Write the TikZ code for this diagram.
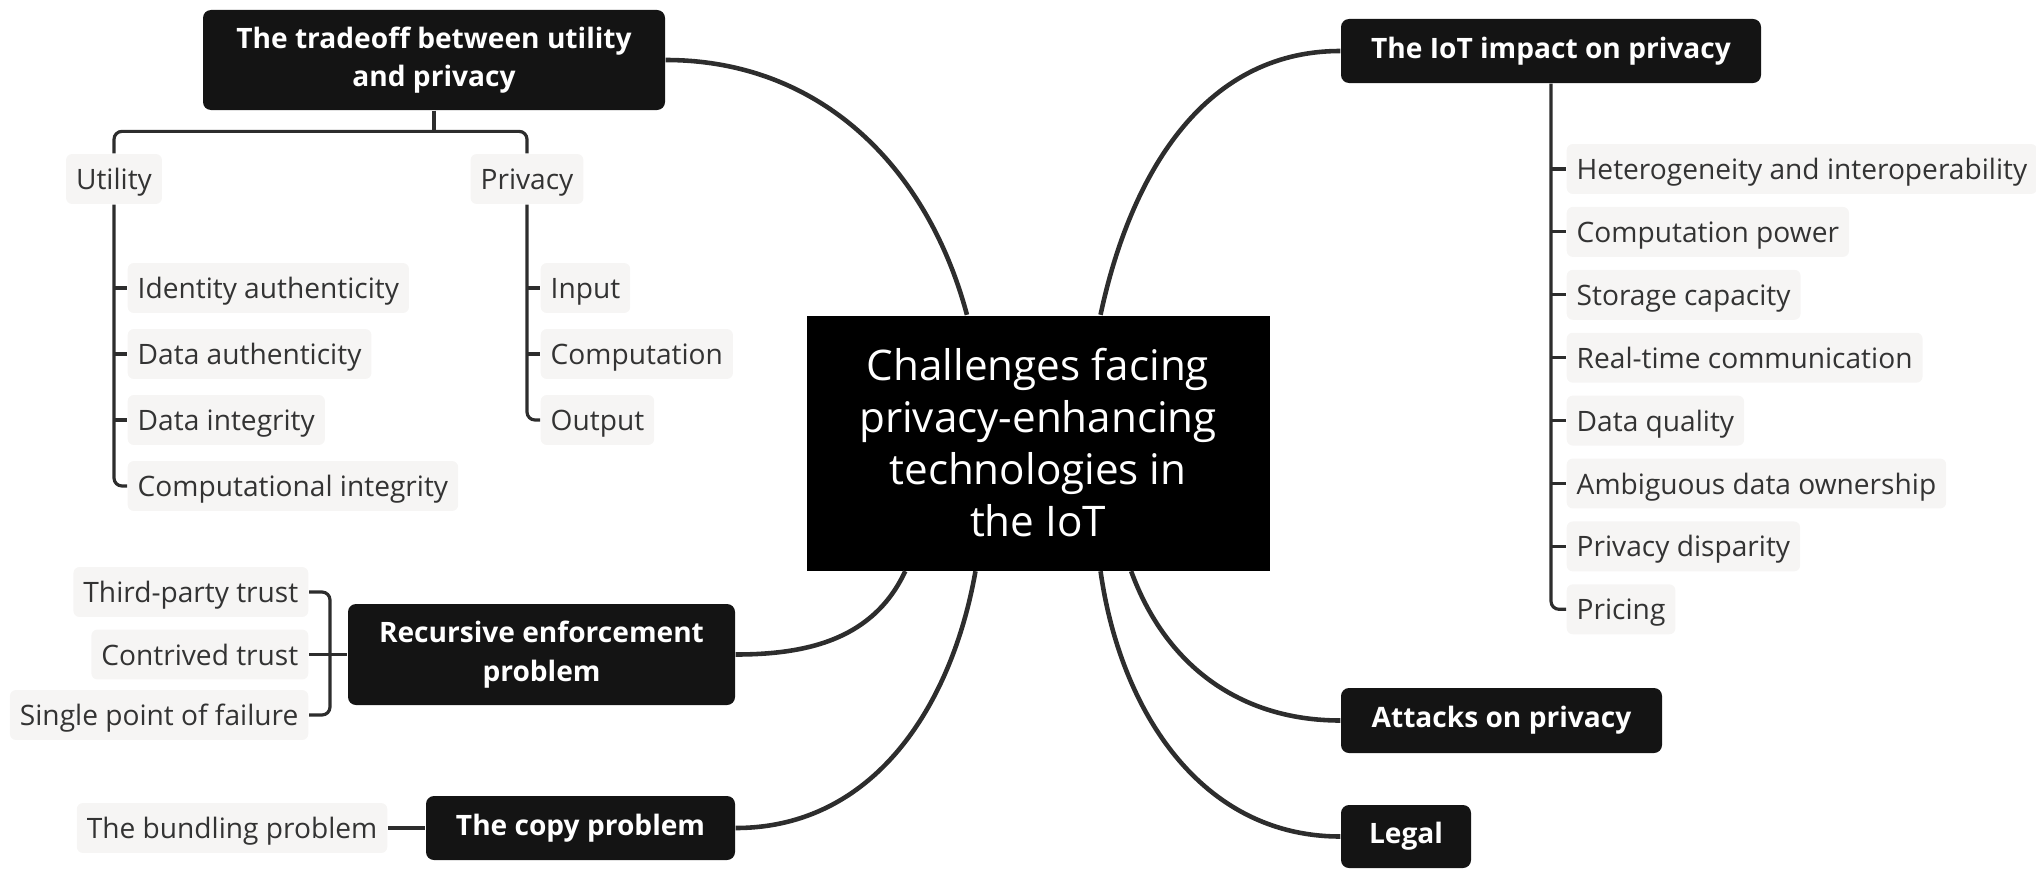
\documentclass[tikz,border=0pt]{standalone}
\usepackage{fontspec}
\setmainfont{Open Sans}
\usetikzlibrary{positioning}
\definecolor{leafbg}{RGB}{246,245,244}
\definecolor{boxbg}{RGB}{20,20,20}
\definecolor{linkgray}{RGB}{45,45,45}
\definecolor{leaftext}{RGB}{51,51,51}
\tikzset{
  mainbox/.style={fill=boxbg, text=white, rounded corners=0.08cm, align=center, inner sep=0pt, font=\fontsize{8}{10.9}\selectfont\bfseries},
  leaf/.style={fill=leafbg, text=leaftext, rounded corners=0.06cm, inner xsep=0.1cm, inner ysep=3.1pt, text height=7pt, text depth=1pt, font=\fontsize{8}{10}\selectfont},
  link/.style={draw=linkgray, line width=1.3pt},
  twig/.style={draw=linkgray, line width=0.9pt, rounded corners=0.08cm},
}

\begin{document}
\begin{tikzpicture}
        \useasboundingbox (0,0) rectangle (20.36,8.68);
        \node[fill=black, text=white, minimum width=4.63cm, minimum height=2.55cm, align=center, font=\fontsize{12}{14.8}\selectfont] (challenges) at (10.38,4.25) {Challenges facing\\privacy-enhancing\\technologies in\\the IoT};

        \node[mainbox, minimum width=4.62cm, minimum height=1.0cm] (tradeoff) at (4.34,8.08) {The tradeoff between utility\\and privacy};
        \node[mainbox, minimum width=4.2cm, minimum height=0.64cm] (iot) at (15.51,8.17) {The IoT impact on privacy};
        \node[mainbox, minimum width=3.87cm, minimum height=1.01cm] (recursive) at (5.415,2.135) {Recursive enforcement\\problem};
        \node[mainbox, minimum width=3.09cm, minimum height=0.64cm] (copy) at (5.805,0.40) {The copy problem};
        \node[mainbox, minimum width=3.21cm, minimum height=0.65cm] (attacks) at (15.015,1.475) {Attacks on privacy};
        \node[mainbox, minimum width=1.30cm, minimum height=0.63cm] (legal) at (14.06,0.315) {Legal};

        \draw[link] (challenges.119) to[out=105,in=0] (tradeoff.east);
        \draw[link] (challenges.64) to[out=78,in=180] (iot.west);
        \draw[link] (challenges.-136) to[out=-115,in=0] (recursive.east);
        \draw[link] (challenges.-116) to[out=-100,in=0] (copy.east);
        \draw[link] (challenges.-54) to[out=-70,in=180] (attacks.west);
        \draw[link] (challenges.-64) to[out=-82,in=180] (legal.west);

        \node[leaf] (utility) at (1.14,6.89) {Utility};
        \node[leaf] (privacy) at (5.27,6.89) {Privacy};
        \draw[twig] (tradeoff.south) -- ++(0,-0.22);
        \draw[twig] (utility.north) -- ++(0,0.22) -| (privacy.north);

        \foreach \txt [count=\i] in {Identity authenticity, Data authenticity, Data integrity, Computational integrity}
            \node[leaf, anchor=west] (util\i) at ({1.27}, {6.46-0.66*\i}) {\txt};
        \foreach \i in {1,2,3}
            \draw[twig] (utility.south |- util\i.west) -- (util\i.west);
        \draw[twig] (utility.south) |- (util4.west);

        \foreach \txt [count=\i] in {Input, Computation, Output}
            \node[leaf, anchor=west] (priv\i) at ({5.40}, {6.46-0.66*\i}) {\txt};
        \foreach \i in {1,2}
            \draw[twig] (privacy.south |- priv\i.west) -- (priv\i.west);
        \draw[twig] (privacy.south) |- (priv3.west);

        \foreach \txt [count=\i] in {Heterogeneity and interoperability, Computation power, Storage capacity, Real-time communication, Data quality, Ambiguous data ownership, Privacy disparity, Pricing}
            \node[leaf, anchor=west] (impact\i) at ({15.66}, {7.619-0.629*\i}) {\txt};
        \foreach \i in {1,...,7}
            \draw[twig] (iot.south |- impact\i.west) -- (impact\i.west);
        \draw[twig] (iot.south) |- (impact8.west);

        \node[leaf, anchor=east] (trust1) at (3.09,2.76) {Third-party trust};
        \node[leaf, anchor=east] (trust2) at (3.09,2.135) {Contrived trust};
        \node[leaf, anchor=east] (trust3) at (3.09,1.53) {Single point of failure};
        \coordinate (brace) at (3.30,2.135);
        \draw[twig] (trust1.east) -| (brace) |- (trust3.east);
        \draw[twig] (trust2.east) -- (recursive.west);

        \node[leaf, anchor=east] (bundling) at (3.88,0.40) {The bundling problem};
        \draw[twig] (bundling) -- (copy);
\end{tikzpicture}
\end{document}
